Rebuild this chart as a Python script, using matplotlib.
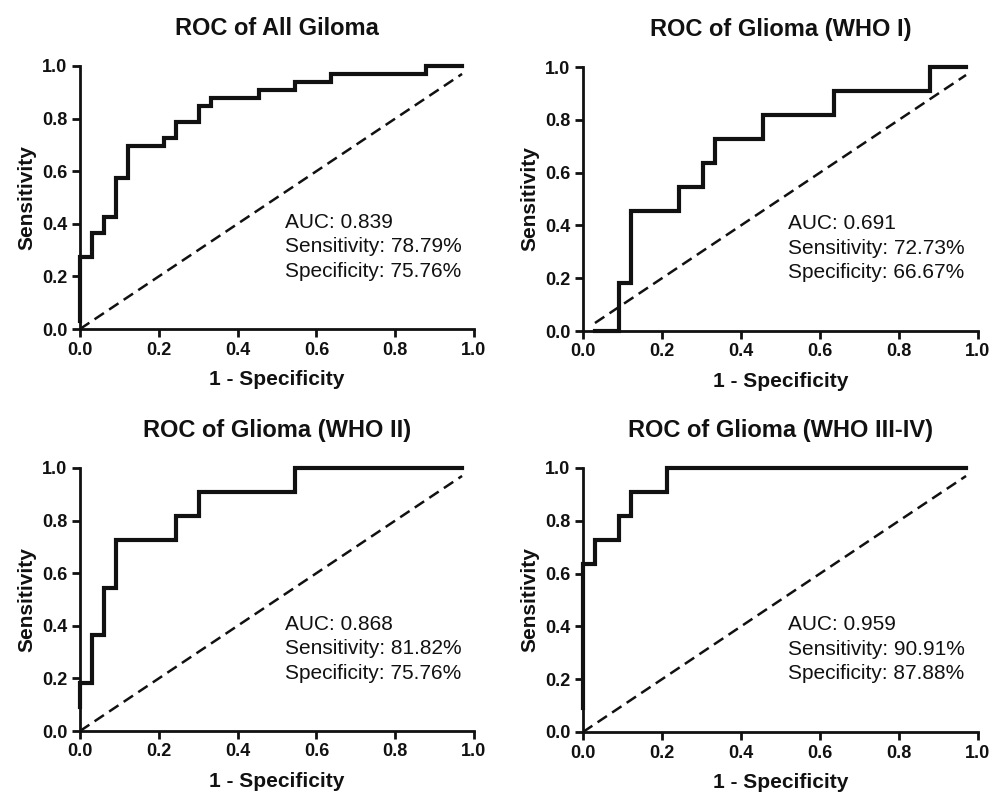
import matplotlib
matplotlib.use("Agg")
import matplotlib.pyplot as plt

plt.rcParams["font.family"] = ["Liberation Sans", "DejaVu Sans"]

titles = ["ROC of All Giloma", "ROC of Glioma (WHO I)",
          "ROC of Glioma (WHO II)", "ROC of Glioma (WHO III-IV)"]

# ROC points (1 - specificity, sensitivity)
fpr_all = [0, 0, 0.0303, 0.0303, 0.0606, 0.0606, 0.0909, 0.0909, 0.1212, 0.1212,
           0.2121, 0.2121, 0.2424, 0.2424, 0.3030, 0.3030, 0.3333, 0.3333,
           0.4545, 0.4545, 0.5455, 0.5455, 0.6364, 0.6364, 0.8788, 0.8788, 0.9697]
tpr_all = [0.0303, 0.2727, 0.2727, 0.3636, 0.3636, 0.4242, 0.4242, 0.5758, 0.5758, 0.6970,
           0.6970, 0.7273, 0.7273, 0.7879, 0.7879, 0.8485, 0.8485, 0.8788,
           0.8788, 0.9091, 0.9091, 0.9394, 0.9394, 0.9697, 0.9697, 1.0, 1.0]

fpr_who1 = [0.0303, 0.0909, 0.0909, 0.1212, 0.1212, 0.2424, 0.2424, 0.3030, 0.3030,
            0.3333, 0.3333, 0.4545, 0.4545, 0.6364, 0.6364, 0.8788, 0.8788, 0.9697]
tpr_who1 = [0, 0, 0.1818, 0.1818, 0.4545, 0.4545, 0.5455, 0.5455, 0.6364,
            0.6364, 0.7273, 0.7273, 0.8182, 0.8182, 0.9091, 0.9091, 1.0, 1.0]

fpr_who2 = [0, 0, 0.0303, 0.0303, 0.0606, 0.0606, 0.0909, 0.0909, 0.2424, 0.2424,
            0.3030, 0.3030, 0.5455, 0.5455, 0.9697]
tpr_who2 = [0.0909, 0.1818, 0.1818, 0.3636, 0.3636, 0.5455, 0.5455, 0.7273, 0.7273, 0.8182,
            0.8182, 0.9091, 0.9091, 1.0, 1.0]

fpr_who34 = [0, 0, 0.0303, 0.0303, 0.0909, 0.0909, 0.1212, 0.1212, 0.2121, 0.2121, 0.9697]
tpr_who34 = [0.0909, 0.6364, 0.6364, 0.7273, 0.7273, 0.8182, 0.8182, 0.9091, 0.9091, 1.0, 1.0]

# reference diagonal ends
diag_start = [0.0, 0.0303, 0.0, 0.0]
diag_end = 0.9697

auc = ["0.839", "0.691", "0.868", "0.959"]
sens = ["78.79%", "72.73%", "81.82%", "90.91%"]
spec = ["75.76%", "66.67%", "75.76%", "87.88%"]

curves = [(fpr_all, tpr_all), (fpr_who1, tpr_who1), (fpr_who2, tpr_who2), (fpr_who34, tpr_who34)]

W, H = 1003, 792
fig = plt.figure(figsize=(W / 100, H / 100), dpi=100)
boxes = [(80, 66, 474, 329), (583, 67, 978, 331), (80, 468, 474, 731), (583, 468, 978, 732)]

ink = "#111111"
for i, (l, t, r, b) in enumerate(boxes):
    ax = fig.add_axes([l / W, 1 - b / H, (r - l) / W, (b - t) / H])
    x, y = curves[i]
    ax.plot(x, y, color=ink, lw=3.0, clip_on=False, solid_joinstyle="miter", zorder=3)
    d0 = diag_start[i]
    ax.plot([d0, diag_end], [d0, diag_end], color=ink, lw=1.8, ls=(0, (4.5, 2.5)), zorder=2)

    ax.set_xlim(0, 1)
    ax.set_ylim(0, 1)
    ax.set_xticks([0, 0.2, 0.4, 0.6, 0.8, 1.0])
    ax.set_yticks([0, 0.2, 0.4, 0.6, 0.8, 1.0])
    ax.set_xticklabels([f"{v:.1f}" for v in ax.get_xticks()])
    ax.set_yticklabels([f"{v:.1f}" for v in ax.get_yticks()])
    for s in ["top", "right"]:
        ax.spines[s].set_visible(False)
    for s in ["left", "bottom"]:
        ax.spines[s].set_linewidth(2.0)
        ax.spines[s].set_color(ink)
    ax.tick_params(direction="out", length=6, width=2.0, color=ink,
                   labelsize=13, pad=3, labelcolor=ink)
    for lab in ax.get_xticklabels() + ax.get_yticklabels():
        lab.set_fontweight("bold")

    ax.set_xlabel("1 - Specificity", fontsize=15, fontweight="bold", color=ink, labelpad=8)
    ax.set_ylabel("Sensitivity", fontsize=15, fontweight="bold", color=ink, labelpad=4)
    ax.set_title(titles[i], fontsize=17, fontweight="bold", color=ink, pad=22)

    lines = [f"AUC: {auc[i]}", f"Sensitivity: {sens[i]}", f"Specificity: {spec[i]}"]
    for k, txt in enumerate(lines):
        ax.text(0.52, 0.385 - k * 0.093, txt, transform=ax.transAxes, fontsize=15,
                color=ink, va="baseline", ha="left")

fig.savefig("out.png", dpi=100)
